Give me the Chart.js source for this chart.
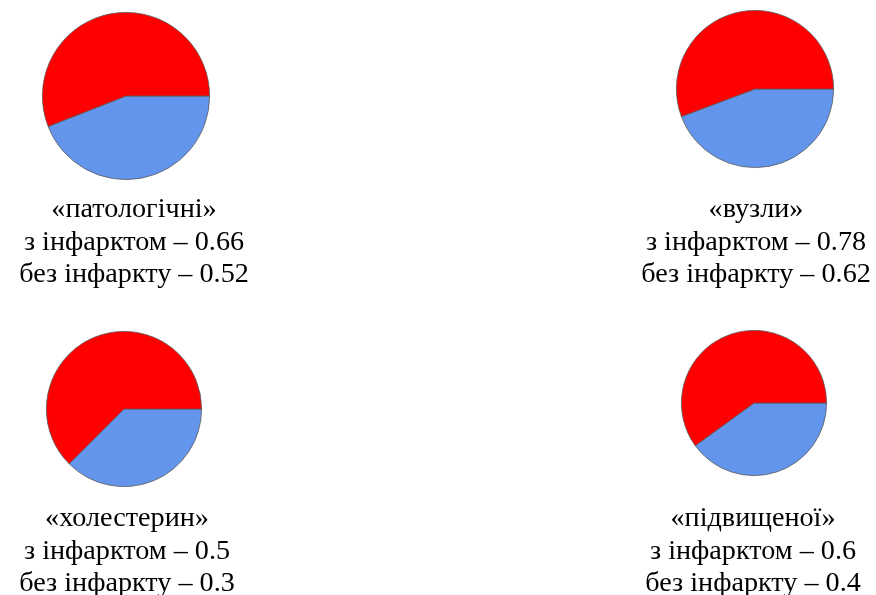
<!DOCTYPE html>
<html>
<head>
<meta charset="utf-8">
<script src="https://cdn.jsdelivr.net/npm/chart.js@4"></script>
<style>
  html, body { margin: 0; padding: 0; background: #fff; }
  body { width: 876px; height: 595px; position: relative; overflow: hidden; }
  .pie { position: absolute; }
</style>
</head>
<body>
<script>
// Indicator names and the two values shown for each one
const indicators = ['«патологічні»', '«вузли»', '«холестерин»', '«підвищеної»'];
const withInfarct = [0.66, 0.78, 0.5, 0.6];
const withoutInfarct = [0.52, 0.62, 0.3, 0.4];
const withLabel = 'з інфарктом';
const withoutLabel = 'без інфаркту';

// Placement of each pie (centre, radius) and of its caption (centre x, first baseline)
const layout = [
  { cx: 126, cy: 96,  r: 84, tx: 134, ty: 217 },
  { cx: 755, cy: 89,  r: 79, tx: 756, ty: 217 },
  { cx: 124, cy: 409, r: 78, tx: 127, ty: 526 },
  { cx: 754, cy: 403, r: 73, tx: 753, ty: 526 }
];
const LINE_GAP = 32.5;
const HALF_W = 160;

// Draws the three caption lines under a pie
const captionPlugin = {
  id: 'caption',
  afterDraw(chart, args, opts) {
    const ctx = chart.ctx;
    ctx.save();
    ctx.font = '28.2px "Liberation Serif", "Times New Roman", serif';
    ctx.fillStyle = '#000';
    ctx.textAlign = 'center';
    ctx.textBaseline = 'alphabetic';
    opts.lines.forEach((t, k) => ctx.fillText(t, opts.x, opts.y + k * opts.gap));
    ctx.restore();
  }
};

indicators.forEach((name, i) => {
  const p = layout[i];
  const L = p.tx - HALF_W;
  const W = 2 * HALF_W;
  const T = p.cy - p.r - 2;
  const H = p.ty + 2 * LINE_GAP + 12 - T;

  const box = document.createElement('div');
  box.className = 'pie';
  box.style.left = L + 'px';
  box.style.top = T + 'px';
  box.style.width = W + 'px';
  box.style.height = H + 'px';
  const cv = document.createElement('canvas');
  box.appendChild(cv);
  document.body.appendChild(box);

  new Chart(cv, {
    type: 'pie',
    data: {
      labels: [withoutLabel, withLabel],
      datasets: [{
        data: [withoutInfarct[i], withInfarct[i]],
        backgroundColor: ['#6495ED', '#FF0000'],
        borderColor: '#5a5a5a',
        borderWidth: 0.8
      }]
    },
    options: {
      responsive: true,
      maintainAspectRatio: false,
      animation: false,
      rotation: 90,
      layout: {
        padding: {
          left: p.cx - p.r - L,
          right: L + W - (p.cx + p.r),
          top: 2,
          bottom: T + H - (p.cy + p.r)
        }
      },
      plugins: {
        legend: { display: false },
        tooltip: { enabled: false },
        caption: {
          x: p.tx - L,
          y: p.ty - T,
          gap: LINE_GAP,
          lines: [
            name,
            withLabel + ' – ' + withInfarct[i],
            withoutLabel + ' – ' + withoutInfarct[i]
          ]
        }
      }
    },
    plugins: [captionPlugin]
  });
});
</script>
</body>
</html>
